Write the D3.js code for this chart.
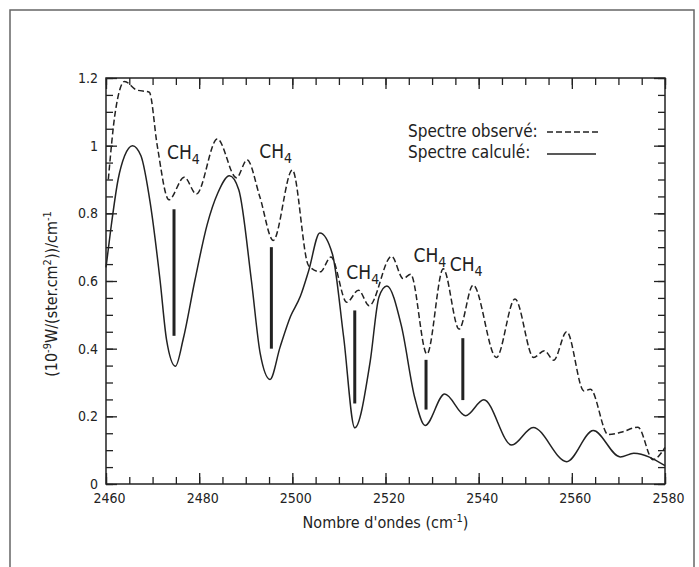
<!DOCTYPE html>
<html lang="fr">
<head>
<meta charset="UTF-8">
<script src="https://d3js.org/d3.v7.min.js"></script>
<style>
    body { margin: 0; background: #fff; }
    text { font-family: 'Liberation Sans Narrow', 'DejaVu Sans Condensed', 'Arial Narrow', sans-serif; fill: #222; }
    .tick text { font-size: 14px; }
</style>
</head>
<body>
<svg width="699" height="567"></svg>
<script>
// spectre calculé (trait plein)
const calcX = [2460, 2461, 2462.6, 2464, 2465.7, 2467.5, 2469.5, 2471.6, 2473, 2474.9, 2476.6, 2479.1, 2481.7, 2484, 2486.5,
    2488.5, 2491.2, 2493.1, 2495.2, 2497.4, 2499.6, 2501.7, 2503.5, 2505.9, 2508.6, 2511, 2513.4, 2516.7, 2518.6, 2520.3,
    2523.4, 2526.3, 2528.5, 2532.7, 2537.2, 2541.1, 2547.1, 2551.7, 2558.9, 2564.6, 2570.4, 2573.3, 2580];
const calcY = [0.64, 0.75, 0.9, 0.97, 1.0, 0.97, 0.83, 0.603, 0.426, 0.348, 0.43, 0.603, 0.766, 0.86, 0.911,
    0.87, 0.603, 0.386, 0.309, 0.406, 0.495, 0.554, 0.63, 0.742, 0.68, 0.436, 0.166, 0.361, 0.553, 0.585,
    0.468, 0.254, 0.173, 0.266, 0.202, 0.249, 0.115, 0.167, 0.066, 0.158, 0.08, 0.091, 0.054];

// spectre observé (tirets)
const obsX = [2460.5, 2462, 2464, 2466.5, 2469.3, 2471, 2473.5, 2476.8, 2479.4, 2483.9, 2488, 2490.3, 2493, 2495.9, 2500,
    2503.5, 2506, 2508.3, 2511.7, 2514.2, 2516.5, 2521.3, 2523.8, 2525.4, 2528.9, 2532.4, 2535.8, 2538.8, 2543.8,
    2547.8, 2551.8, 2554.1, 2556.1, 2558.9, 2562.6, 2564, 2567.8, 2570.8, 2574.2, 2577.4, 2580];
const obsY = [0.9, 1.1, 1.19, 1.165, 1.158, 1.0, 0.84, 0.907, 0.857, 1.02, 0.905, 0.958, 0.85, 0.72, 0.928,
    0.645, 0.627, 0.671, 0.537, 0.573, 0.527, 0.673, 0.607, 0.62, 0.384, 0.636, 0.458, 0.588, 0.374,
    0.547, 0.374, 0.394, 0.366, 0.45, 0.275, 0.28, 0.146, 0.154, 0.168, 0.072, 0.108];

// raies CH4
const ch4X = [2474.6, 2495.5, 2513.4, 2528.7, 2536.6];
const ch4Top = [0.812, 0.70, 0.513, 0.367, 0.431];
const ch4Bottom = [0.438, 0.40, 0.238, 0.22, 0.248];
const ch4LabelX = [2473.1, 2492.9, 2511.6, 2526, 2533.8];
const ch4LabelY = [0.962, 0.965, 0.607, 0.656, 0.63];

const xMajor = [2460, 2480, 2500, 2520, 2540, 2560, 2580];
const xMinor = d3.range(2460, 2581, 5);
const yMajor = [0, 0.2, 0.4, 0.6, 0.8, 1, 1.2];
const yMinor = d3.range(0, 1.201, 0.05);
const yTickLabels = ["0", "0.2", "0.4", "0.6", "0.8", "1", "1.2"];

const mLeft = 106, mRight = 665, mTop = 78, mBottom = 484;
const svg = d3.select("svg");

const x = d3.scaleLinear().domain([2460, 2580]).range([mLeft, mRight]);
const y = d3.scaleLinear().domain([0, 1.2]).range([mBottom, mTop]);

// cadre extérieur
svg.append("rect").attr("x", 10).attr("y", 10).attr("width", 684).attr("height", 620)
    .attr("fill", "none").attr("stroke", "#666").attr("stroke-width", 1.5);

// axes : petites graduations puis grandes
function addAxis(axis, tr, labels) {
    const g = svg.append("g").attr("transform", tr).call(axis);
    g.select(".domain").remove();
    g.selectAll(".tick line").attr("stroke", "#222").attr("stroke-width", 1.3);
    if (!labels) g.selectAll(".tick text").remove();
    return g;
}
addAxis(d3.axisBottom(x).tickValues(xMinor).tickSize(-7), `translate(0,${mBottom})`, false);
const xg = addAxis(d3.axisBottom(x).tickValues(xMajor).tickSize(-11).tickPadding(9).tickFormat(d3.format("d")),
    `translate(0,${mBottom})`, true);
xg.selectAll(".tick text").attr("dx", 3);
addAxis(d3.axisTop(x).tickValues(xMinor).tickSize(-7), `translate(0,${mTop})`, false);
addAxis(d3.axisTop(x).tickValues(xMajor).tickSize(-11), `translate(0,${mTop})`, false);

addAxis(d3.axisLeft(y).tickValues(yMinor).tickSize(-7), `translate(${mLeft},0)`, false);
addAxis(d3.axisLeft(y).tickValues(yMajor).tickSize(-11).tickPadding(8).tickFormat((d, i) => yTickLabels[i]),
    `translate(${mLeft},0)`, true);
addAxis(d3.axisRight(y).tickValues(yMinor).tickSize(-7), `translate(${mRight},0)`, false);
addAxis(d3.axisRight(y).tickValues(yMajor).tickSize(-11), `translate(${mRight},0)`, false);

svg.append("rect").attr("x", mLeft).attr("y", mTop).attr("width", mRight - mLeft).attr("height", mBottom - mTop)
    .attr("fill", "none").attr("stroke", "#222").attr("stroke-width", 1.5);

// courbes
const line = d3.line().x(d => x(d[0])).y(d => y(d[1])).curve(d3.curveMonotoneX);
svg.append("path").datum(d3.zip(calcX, calcY)).attr("d", line)
    .attr("fill", "none").attr("stroke", "#222").attr("stroke-width", 1.5);
svg.append("path").datum(d3.zip(obsX, obsY)).attr("d", line)
    .attr("fill", "none").attr("stroke", "#222").attr("stroke-width", 1.5).attr("stroke-dasharray", "6,3");

// raies CH4
svg.selectAll("line.ch4").data(ch4X).join("line").attr("class", "ch4")
    .attr("x1", d => x(d)).attr("x2", d => x(d))
    .attr("y1", (d, i) => y(ch4Top[i])).attr("y2", (d, i) => y(ch4Bottom[i]))
    .attr("stroke", "#222").attr("stroke-width", 3);
const lab = svg.selectAll("text.ch4").data(ch4LabelX).join("text").attr("class", "ch4")
    .attr("x", d => x(d)).attr("y", (d, i) => y(ch4LabelY[i]))
    .style("font-size", "19px");
lab.append("tspan").text("CH");
lab.append("tspan").text("4").attr("dy", 5).style("font-size", "14px");

// légende
const leg = svg.append("g");
leg.append("text").attr("x", 408).attr("y", 137).style("font-size", "17px").text("Spectre observé:");
leg.append("text").attr("x", 408).attr("y", 158).style("font-size", "17px").text("Spectre calculé:");
leg.append("line").attr("x1", 547).attr("x2", 598).attr("y1", 132).attr("y2", 132)
    .attr("stroke", "#222").attr("stroke-width", 1.5).attr("stroke-dasharray", "6,3");
leg.append("line").attr("x1", 547).attr("x2", 596).attr("y1", 154).attr("y2", 154)
    .attr("stroke", "#222").attr("stroke-width", 1.5);

// titres des axes
const xt = svg.append("text").attr("x", (mLeft + mRight) / 2).attr("y", 528)
    .attr("text-anchor", "middle").style("font-size", "16px");
xt.append("tspan").text("Nombre d'ondes (cm");
xt.append("tspan").text("-1").attr("dy", -6).style("font-size", "11px");
xt.append("tspan").text(")").attr("dy", 6);

const yt = svg.append("text").attr("transform", "translate(57,294) rotate(-90)")
    .attr("text-anchor", "middle").style("font-size", "16px");
yt.append("tspan").text("(10");
yt.append("tspan").text("-9").attr("dy", -6).style("font-size", "11px");
yt.append("tspan").text("W/(ster.cm").attr("dy", 6);
yt.append("tspan").text("2").attr("dy", -6).style("font-size", "11px");
yt.append("tspan").text("))/cm").attr("dy", 6);
yt.append("tspan").text("-1").attr("dy", -6).style("font-size", "11px");
</script>
</body>
</html>
